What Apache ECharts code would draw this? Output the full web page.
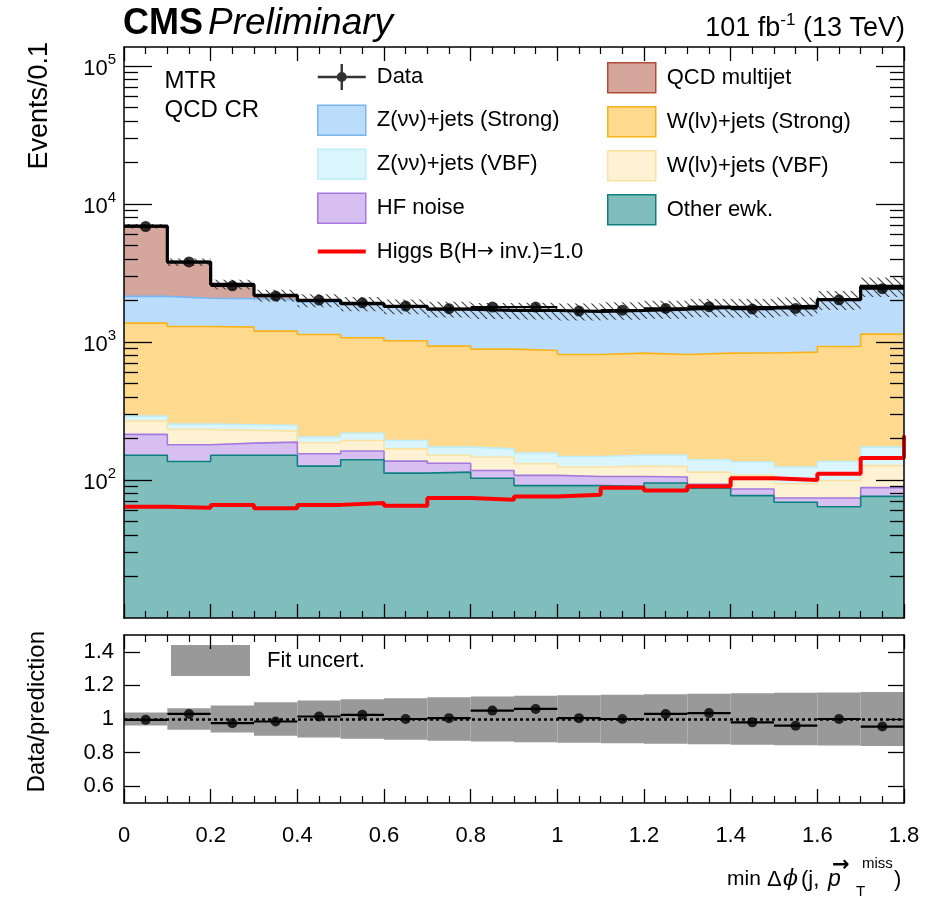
<!DOCTYPE html>
<html><head><meta charset="utf-8">
<script src="https://cdn.jsdelivr.net/npm/echarts@6/dist/echarts.min.js"></script>
<style>html,body{margin:0;padding:0;background:#fff}#c{width:937px;height:903px}</style>
</head><body><div id="c"></div>
<script>
// ---------------- data ----------------
const binEdges = [0,0.1,0.2,0.3,0.4,0.5,0.6,0.7,0.8,0.9,1.0,1.1,1.2,1.3,1.4,1.5,1.6,1.7,1.8];
const otherEwk  = [151,136,151,151,126,140,112,114,103,91,91,90,95,87,77,69,64,76];
const hfNoise   = [63,44,34,37,29,22,25,18,14,17,15,16,10,6,9,5,10,12];
const wlnVBF    = [53,52,44,38,31,31,31,19,29,23,18,20,20,21,22,20,25,39];
const znnVBF    = [23,22,22,22,19,25,25,22,22,26,24,25,26,26,27,30,37,46];
const wlnStrong = [1078,1041,1029,949,928,854,827,760,719,710,663,679,660,690,696,720,791,966];
const znnStrong = [770,780,775,826,808,798,775,787,793,813,844,850,909,940,930,961,1086,1374];
const qcdMultijet = [4762,1712,557,150,59,22,15,10,10,10,9,10,10,8,10,10,10,10];
const higgs     = [64,63,66,62.5,66,68,65,74,72,76,78,88,84,90,103,100,111,144];
const higgsNextBin = 210;
const dataCounts = [6860,3800,2550,2150,2010,1920,1820,1740,1790,1790,1675,1700,1750,1800,1730,1750,2020,2430];
const ratioValues = [0.995,1.03,0.975,0.985,1.015,1.025,1.0,1.005,1.05,1.06,1.005,1.0,1.03,1.035,0.98,0.96,1.0,0.955];
const fitUncert = [0.038,0.064,0.08,0.1,0.11,0.118,0.123,0.13,0.134,0.138,0.142,0.145,0.148,0.15,0.154,0.156,0.158,0.16];
const mainDecadeTicks = [100,1000,10000,100000];
const ratioTicks = [0.6,0.8,1,1.2,1.4];

// ---------------- helpers ----------------
const FONT = '"Liberation Sans", Arial, Helvetica, sans-serif';
const nBins = binEdges.length - 1;
const YMIN = 10, YMAX = 1.37e5;

const layers = [
  {name:'Other ewk.',            vals: otherEwk,   fill:'#80bebe', line:'#0f8080'},
  {name:'HF noise',              vals: hfNoise,    fill:'#d7bff2', line:'#a678de'},
  {name:'W(l\u03bd)+jets (VBF)', vals: wlnVBF,     fill:'#fef2d5', line:'#fbe2a2'},
  {name:'Z(\u03bd\u03bd)+jets (VBF)', vals: znnVBF, fill:'#daf6fc', line:'#bdeefa'},
  {name:'W(l\u03bd)+jets (Strong)', vals: wlnStrong, fill:'#fed98e', line:'#f8b21a'},
  {name:'Z(\u03bd\u03bd)+jets (Strong)', vals: znnStrong, fill:'#bcdcfb', line:'#78b6f2'},
  {name:'QCD multijet',          vals: qcdMultijet, fill:'#d5a69c', line:'#b24a3a'}
];
let run = new Array(nBins).fill(0);
layers.forEach(L => { run = run.map((c,i) => c + L.vals[i]); L.cum = run.slice(); });
const total = run.slice();

function steps(vals){
  const pts = [];
  vals.forEach((v,i) => { pts.push([binEdges[i], v]); pts.push([binEdges[i+1], v]); });
  return pts;
}
const minorLog = [];
for (let k = 1; k <= 5; k++) for (let m = 2; m <= 9; m++) { const v = m*Math.pow(10,k); if (v > YMIN && v < YMAX) minorLog.push(v); }

// hatch pattern
const pc = document.createElement('canvas'); pc.width = 8; pc.height = 8;
const g = pc.getContext('2d'); g.strokeStyle = '#444'; g.lineWidth = 1.2;
g.beginPath(); g.moveTo(-1,-1); g.lineTo(9,9); g.moveTo(7,-1); g.lineTo(9,1); g.moveTo(-1,7); g.lineTo(1,9); g.stroke();
const hatch = {image: pc, repeat: 'repeat'};

function rectItem(params, api, fill){
  const p1 = api.coord([api.value(0), api.value(3)]);
  const p2 = api.coord([api.value(1), api.value(2)]);
  return {type:'rect', shape:{x:p1[0], y:p1[1], width:p2[0]-p1[0], height:p2[1]-p1[1]}, style:{fill: fill}};
}
function hbarItem(params, api){
  const a = api.coord([api.value(0), api.value(2)]);
  const b = api.coord([api.value(1), api.value(2)]);
  return {type:'line', shape:{x1:a[0], y1:a[1], x2:b[0], y2:b[1]}, style:{stroke:'#000', lineWidth:2.2}};
}

// ---------------- series ----------------
const series = [];
layers.slice().reverse().forEach(L => {
  series.push({type:'line', name:L.name, xAxisIndex:0, yAxisIndex:0, data: steps(L.cum), z:2,
    symbol:'none', showSymbol:false, silent:true,
    lineStyle:{color:L.line, width:1.6}, itemStyle:{color:L.fill},
    areaStyle:{color:L.fill, opacity:1, origin:'start'}});
});
series.push({type:'custom', name:'hatch', xAxisIndex:0, yAxisIndex:0, silent:true, z:3,
  encode:{x:[0,1], y:[2,3]},
  data: total.map((t,i) => [binEdges[i], binEdges[i+1], t*(1-fitUncert[i]), t*(1+fitUncert[i])]),
  renderItem: (p,a) => rectItem(p,a,hatch)});
series.push({type:'line', name:'Total', xAxisIndex:0, yAxisIndex:0, data: steps(total), z:4,
  symbol:'none', silent:true, lineStyle:{color:'#000', width:3.2}});
series.push({type:'line', name:'Higgs B(H\u2192 inv.)=1.0', xAxisIndex:0, yAxisIndex:0, z:4,
  data: steps(higgs).concat([[binEdges[nBins], higgsNextBin]]),
  symbol:'none', silent:true, lineStyle:{color:'#ff0000', width:4}, itemStyle:{color:'#ff0000'}});
series.push({type:'custom', name:'dataBars', xAxisIndex:0, yAxisIndex:0, silent:true, z:5,
  encode:{x:[0,1], y:2},
  data: dataCounts.map((v,i) => [binEdges[i], binEdges[i+1], v]), renderItem: hbarItem});
series.push({type:'scatter', name:'Data', xAxisIndex:0, yAxisIndex:0, silent:true, z:6,
  data: dataCounts.map((v,i) => [(binEdges[i]+binEdges[i+1])/2, v]),
  symbol:'circle', symbolSize:11, itemStyle:{color:'#000'}});
// ratio panel
series.push({type:'custom', name:'Fit uncert.', xAxisIndex:2, yAxisIndex:4, silent:true, z:2,
  encode:{x:[0,1], y:[2,3]}, itemStyle:{color:'#999999'},
  data: fitUncert.map((u,i) => [binEdges[i], binEdges[i+1], 1-u, 1+u]),
  renderItem: (p,a) => rectItem(p,a,'#999999')});
series.push({type:'custom', name:'ratioBars', xAxisIndex:2, yAxisIndex:4, silent:true, z:4,
  encode:{x:[0,1], y:2},
  data: ratioValues.map((v,i) => [binEdges[i], binEdges[i+1], v]), renderItem: hbarItem});
series.push({type:'scatter', name:'Data/prediction', xAxisIndex:2, yAxisIndex:4, silent:true, z:5,
  data: ratioValues.map((v,i) => [(binEdges[i]+binEdges[i+1])/2, v]),
  symbol:'circle', symbolSize:10, itemStyle:{color:'#000'},
  markLine:{silent:true, symbol:['none','none'], label:{show:false}, z:3,
    lineStyle:{color:'#000', type:[3,3], width:2.5}, data:[{yAxis:1}]}});

// ---------------- axes ----------------
const GL = 124, GW = 780;
function xAx(grid, pos, labels){
  return {type:'value', gridIndex:grid, position:pos, min:0, max:1.8, interval:0.2, z:10,
    axisLine:{onZero:false, lineStyle:{color:'#000', width:1.5}},
    axisTick:{inside:true, length:14, lineStyle:{color:'#000', width:1.3}},
    minorTick:{show:true, splitNumber:4, length:7, lineStyle:{color:'#000', width:1.2}},
    splitLine:{show:false}, minorSplitLine:{show:false},
    axisLabel:{show:labels, margin:22, fontSize:22, color:'#000', fontFamily:FONT}};
}
function logAx(pos, vals, len, labels, line){
  return {type:'log', logBase:10, gridIndex:0, position:pos, min:YMIN, max:YMAX, z:10,
    axisLine:{show:line, onZero:false, lineStyle:{color:'#000', width:1.5}},
    axisTick:{inside:true, length:len, customValues:vals, lineStyle:{color:'#000', width:1.3}},
    splitLine:{show:false},
    axisLabel:{show:labels, customValues:vals, margin:8, color:'#000', fontFamily:FONT,
      formatter: v => '{n|10}{s|' + Math.round(Math.log10(v)) + '}',
      rich:{n:{fontSize:22, fontFamily:FONT, verticalAlign:'bottom'},
            s:{fontSize:15, fontFamily:FONT, verticalAlign:'bottom', padding:[0,0,13,0]}}}};
}
function ratioAx(pos, labels){
  return {type:'value', gridIndex:1, position:pos, min:0.5, max:1.5, z:10,
    axisLine:{onZero:false, lineStyle:{color:'#000', width:1.5}},
    axisTick:{inside:true, length:16, customValues:ratioTicks, lineStyle:{color:'#000', width:1.3}},
    splitLine:{show:false},
    axisLabel:{show:labels, customValues:ratioTicks, margin:10, fontSize:22, color:'#000', fontFamily:FONT}};
}

const legendText = {fontSize:22, color:'#000', fontFamily:FONT, padding:[0,0,0,6],
  rich:{a:{fontSize:20, fontFamily:'"DejaVu Sans", sans-serif', color:'#000'}}};
const dataIcon = 'path://M0,0h0.01v0.01h-0.01z M0,13.8h48v2.4h-48z M22.8,2h2.4v26h-2.4z M29,15a5,5 0 1,1 -10,0a5,5 0 1,1 10,0z M47.99,29.99h0.01v0.01h-0.01z';
const lineIcon = 'path://M0,0h0.01v0.01h-0.01z M0,13h48v4h-48z M47.99,29.99h0.01v0.01h-0.01z';
function boxItem(name){
  const L = layers.find(l => l.name === name);
  return {name, icon:'rect', itemStyle:{color:L.fill, borderColor:L.line, borderWidth:1.5}};
}
const legendFormatter = name => name.replace('\u2192', '{a|\u2192}');

const option = {
  animation:false,
  backgroundColor:'#fff',
  textStyle:{fontFamily:FONT},
  grid:[
    {left:GL, width:GW, top:47, height:571},
    {left:GL, width:GW, top:635, height:168}
  ],
  xAxis:[ xAx(0,'bottom',false), xAx(0,'top',false), xAx(1,'bottom',true), xAx(1,'top',false) ],
  yAxis:[
    logAx('left', mainDecadeTicks, 28, true, true),
    logAx('left', minorLog, 14, false, false),
    logAx('right', mainDecadeTicks, 28, false, true),
    logAx('right', minorLog, 14, false, false),
    ratioAx('left', true),
    ratioAx('right', false)
  ],
  legend:[
    {orient:'vertical', left:317, top:62, padding:0, itemWidth:48, itemHeight:30, itemGap:12.5, selectedMode:false,
     textStyle:legendText, formatter:legendFormatter,
     data:[{name:'Data', icon:dataIcon, itemStyle:{color:'#000', borderWidth:0}},
           boxItem('Z(\u03bd\u03bd)+jets (Strong)'),
           boxItem('Z(\u03bd\u03bd)+jets (VBF)'),
           boxItem('HF noise'),
           {name:'Higgs B(H\u2192 inv.)=1.0', icon:lineIcon, itemStyle:{color:'#ff0000', borderWidth:0}}]},
    {orient:'vertical', left:607, top:62, padding:0, itemWidth:48, itemHeight:30, itemGap:12.5, selectedMode:false,
     textStyle:legendText,
     data:[boxItem('QCD multijet'),
           boxItem('W(l\u03bd)+jets (Strong)'),
           boxItem('W(l\u03bd)+jets (VBF)'),
           boxItem('Other ewk.')]},
    {orient:'vertical', left:171, top:645, padding:0, itemWidth:79, itemHeight:31, selectedMode:false,
     textStyle:{fontSize:22, color:'#000', fontFamily:FONT, padding:[0,0,0,12]},
     data:[{name:'Fit uncert.', icon:'rect', itemStyle:{color:'#999999', borderWidth:0}}]}
  ],
  graphic:[
    {type:'text', x:123, y:24, style:{text:'CMS', font:'bold 36px '+FONT, fill:'#000', verticalAlign:'middle'}},
    {type:'text', x:208, y:24, style:{text:'Preliminary', font:'italic 37px '+FONT, fill:'#000', verticalAlign:'middle'}},
    {type:'text', x:905, y:27, style:{text:'{n|101 fb}{s|-1}{n| (13 TeV)}', align:'right', verticalAlign:'middle', fill:'#000',
       rich:{n:{fontSize:27, fontFamily:FONT, verticalAlign:'bottom'}, s:{fontSize:17, fontFamily:FONT, verticalAlign:'bottom', padding:[0,0,13,0]}}}},
    {type:'text', x:164.5, y:81.5, style:{text:'MTR', font:'24px '+FONT, fill:'#000', verticalAlign:'middle'}},
    {type:'text', x:164.5, y:110.5, style:{text:'QCD CR', font:'24px '+FONT, fill:'#000', verticalAlign:'middle'}},
    {type:'text', x:40, y:42, rotation:Math.PI/2, style:{text:'Events/0.1', font:'27px '+FONT, fill:'#000', align:'right', verticalAlign:'middle'}},
    {type:'text', x:37, y:631, rotation:Math.PI/2, style:{text:'Data/prediction', font:'24px '+FONT, fill:'#000', align:'right', verticalAlign:'middle'}},
    {type:'text', x:727, y:879.5, style:{text:'min', font:'21px '+FONT, fill:'#000', verticalAlign:'middle'}},
    {type:'text', x:767, y:879.5, style:{text:'\u0394', font:'22px '+FONT, fill:'#000', verticalAlign:'middle'}},
    {type:'text', x:783, y:879.5, style:{text:'\u03d5', font:'italic 22px "DejaVu Serif", serif', fill:'#000', verticalAlign:'middle'}},
    {type:'text', x:801, y:879.5, style:{text:'(j,', font:'22px '+FONT, fill:'#000', verticalAlign:'middle'}},
    {type:'text', x:828, y:879.5, style:{text:'p', font:'italic 23px '+FONT, fill:'#000', verticalAlign:'middle'}},
    {type:'text', x:832, y:866, style:{text:'\u2192', font:'bold 21px "DejaVu Sans", sans-serif', fill:'#000', verticalAlign:'middle'}},
    {type:'text', x:862, y:864, style:{text:'miss', font:'15px '+FONT, fill:'#000', verticalAlign:'middle'}},
    {type:'text', x:856, y:892, style:{text:'T', font:'15px '+FONT, fill:'#000', verticalAlign:'middle'}},
    {type:'text', x:894, y:879.5, style:{text:')', font:'22px '+FONT, fill:'#000', verticalAlign:'middle'}}
  ],
  series: series
};
const chart = echarts.init(document.getElementById('c'), null, {renderer:'canvas'});
chart.setOption(option);
</script></body></html>
